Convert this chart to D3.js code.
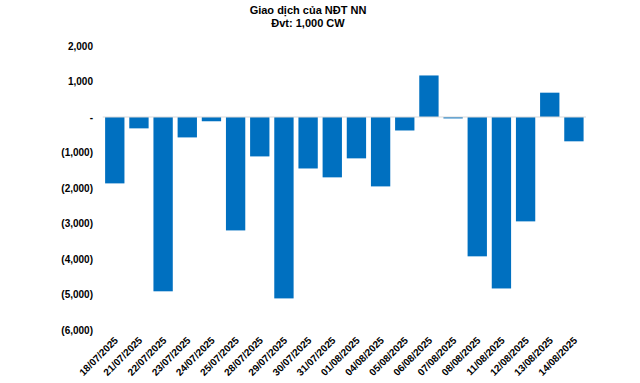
<!DOCTYPE html>
<html><head><meta charset="utf-8">
<script src="https://cdn.jsdelivr.net/npm/d3@7"></script>
<style>body{margin:0;background:#fff}svg{display:block}text{font-family:"Liberation Sans",Arial,sans-serif;font-weight:bold;fill:#000}</style>
</head><body><svg id="c" width="640" height="383"></svg>
<script>
const dates = ["18/07/2025","21/07/2025","22/07/2025","23/07/2025","24/07/2025","25/07/2025","28/07/2025","29/07/2025","30/07/2025","31/07/2025","01/08/2025","04/08/2025","05/08/2025","06/08/2025","07/08/2025","08/08/2025","11/08/2025","12/08/2025","13/08/2025","14/08/2025"];
const values = [-1870,-320,-4910,-575,-120,-3195,-1110,-5110,-1450,-1700,-1165,-1955,-380,1170,-40,-3925,-4830,-2940,685,-685];
const yTicks = [2000,1000,0,-1000,-2000,-3000,-4000,-5000,-6000];
const titleLines = ["Giao dịch của NĐT NN","Đvt: 1,000 CW"];

const svg = d3.select("#c");
const x = d3.scaleBand().domain(dates).range([102.7,586]).paddingInner(0.2).paddingOuter(0.1);
const y = d3.scaleLinear().domain([-6000,2000]).range([330,46]);

const fmt = v => v===0 ? "-" : (v<0 ? "(" + d3.format(",")(-v) + ")" : d3.format(",")(v));

svg.append("g").selectAll("text").data(titleLines).join("text")
  .attr("x",308).attr("y",(d,i)=>14+i*13).attr("text-anchor","middle").attr("font-size",11).text(d=>d);

const ya = svg.append("g").attr("transform","translate(93,0)")
  .call(d3.axisLeft(y).tickValues(yTicks).tickFormat(fmt).tickSize(0).tickPadding(0));
ya.select(".domain").remove();
ya.selectAll("text").attr("font-size",10).attr("font-family","Liberation Sans, Arial, sans-serif").attr("font-weight","bold").attr("fill","#000");

svg.append("g").selectAll("rect").data(values).join("rect")
  .attr("x",(d,i)=>x(dates[i])).attr("width",x.bandwidth())
  .attr("y",d=>y(Math.max(0,d))).attr("height",d=>Math.abs(y(d)-y(0)))
  .attr("fill","#0070c0");

svg.append("line").attr("x1",102.7).attr("x2",586).attr("y1",y(0)).attr("y2",y(0))
  .attr("stroke","#d9d9d9").attr("stroke-width",1.2);

const xa = svg.append("g").attr("transform","translate(0,330)")
  .call(d3.axisBottom(x).tickSize(0).tickPadding(0));
xa.select(".domain").remove();
xa.selectAll("text").attr("font-size",10).attr("font-family","Liberation Sans, Arial, sans-serif").attr("font-weight","bold").attr("fill","#000")
  .attr("text-anchor","end").attr("dy",0).attr("transform","translate(4,11) rotate(-45)");
</script></body></html>
